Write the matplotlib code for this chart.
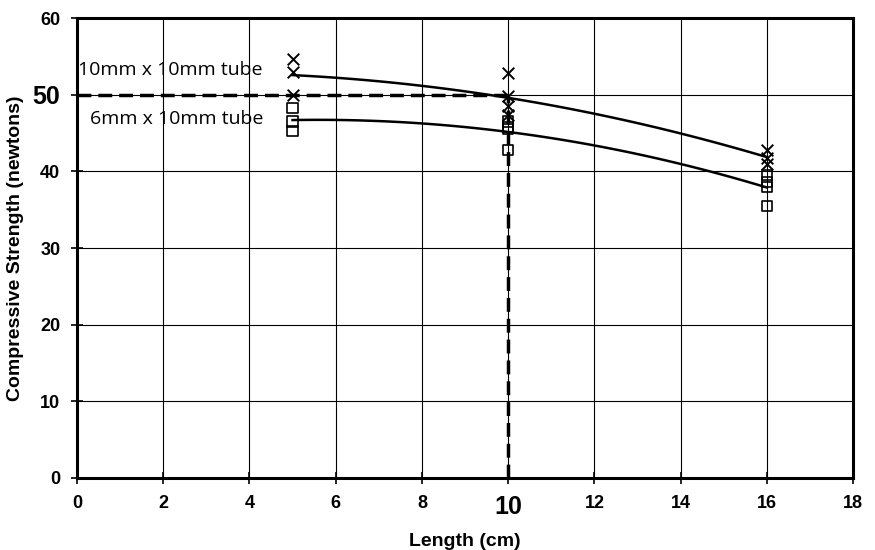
import numpy as np
import matplotlib.pyplot as plt

tube10_x = [5, 5, 5, 10, 10, 10, 10, 16, 16, 16]
tube10_y = [54.7, 53.0, 50.0, 52.8, 49.8, 48.5, 47.3, 42.8, 41.8, 41.0]
tube6_x = [5, 5, 5, 10, 10, 10, 10, 16, 16, 16, 16]
tube6_y = [48.3, 46.5, 45.3, 46.5, 45.8, 45.5, 42.8, 39.5, 38.6, 38.0, 35.5]
x_ticks = [0, 2, 4, 6, 8, 10, 12, 14, 16, 18]
y_ticks = [0, 10, 20, 30, 40, 50, 60]
target_len = 10
target_force = 50

label_font = ["Liberation Sans", "DejaVu Sans"]

fig = plt.figure(figsize=(8.75, 5.5), dpi=100)
ax = fig.add_axes([0.088, 0.131, 0.887, 0.836])

# quadratic trend lines like the spreadsheet ones
xs = np.linspace(5, 16, 100)
for xd, yd in [(tube10_x, tube10_y), (tube6_x, tube6_y)]:
    c = np.polyfit(xd, yd, 2)
    ax.plot(xs, np.polyval(c, xs), color="black", lw=1.8, zorder=3)

ax.scatter(tube10_x, tube10_y, marker="x", s=70, color="black", lw=1.4, zorder=4)
ax.scatter(tube6_x, tube6_y, marker="s", s=55, facecolor="none",
           edgecolor="black", lw=1.2, zorder=4)

# read-off lines for the 10 cm / 50 N point
ax.plot([0, target_len], [target_force, target_force], color="black",
        lw=2.5, ls=(0, (4, 2)), zorder=5)
ax.plot([target_len, target_len], [0, target_force], color="black",
        lw=2.5, ls=(0, (4, 2)), zorder=5)

ax.text(0.02, 53.2, "10mm x 10mm tube", fontsize=14, va="center", ha="left",
        family=["Open Sans", "DejaVu Sans"], zorder=2)
ax.text(0.3, 46.9, "6mm x 10mm tube", fontsize=14, va="center", ha="left",
        family=["Open Sans", "DejaVu Sans"], zorder=2)

ax.set_xlim(0, 18)
ax.set_ylim(0, 60)
ax.set_xticks(x_ticks)
ax.set_yticks(y_ticks)
ax.grid(True, color="black", lw=0.8)
ax.set_axisbelow(True)
for s in ax.spines.values():
    s.set_linewidth(2.2)
ax.tick_params(direction="inout", length=8, width=1.2, pad=8)

for lab in ax.get_xticklabels():
    lab.set_family(label_font)
    lab.set_fontweight("bold")
    lab.set_fontsize(18 if lab.get_text() == "10" else 13)
for lab in ax.get_yticklabels():
    lab.set_family(label_font)
    lab.set_fontweight("bold")
    lab.set_fontsize(18 if lab.get_text() == "50" else 13)

ax.set_xlabel("Length (cm)", family=label_font, fontweight="bold", fontsize=14, labelpad=10)
ax.set_ylabel("Compressive Strength (newtons)", family=label_font, fontweight="bold",
              fontsize=14, labelpad=6)

plt.savefig("out.png", dpi=100)
